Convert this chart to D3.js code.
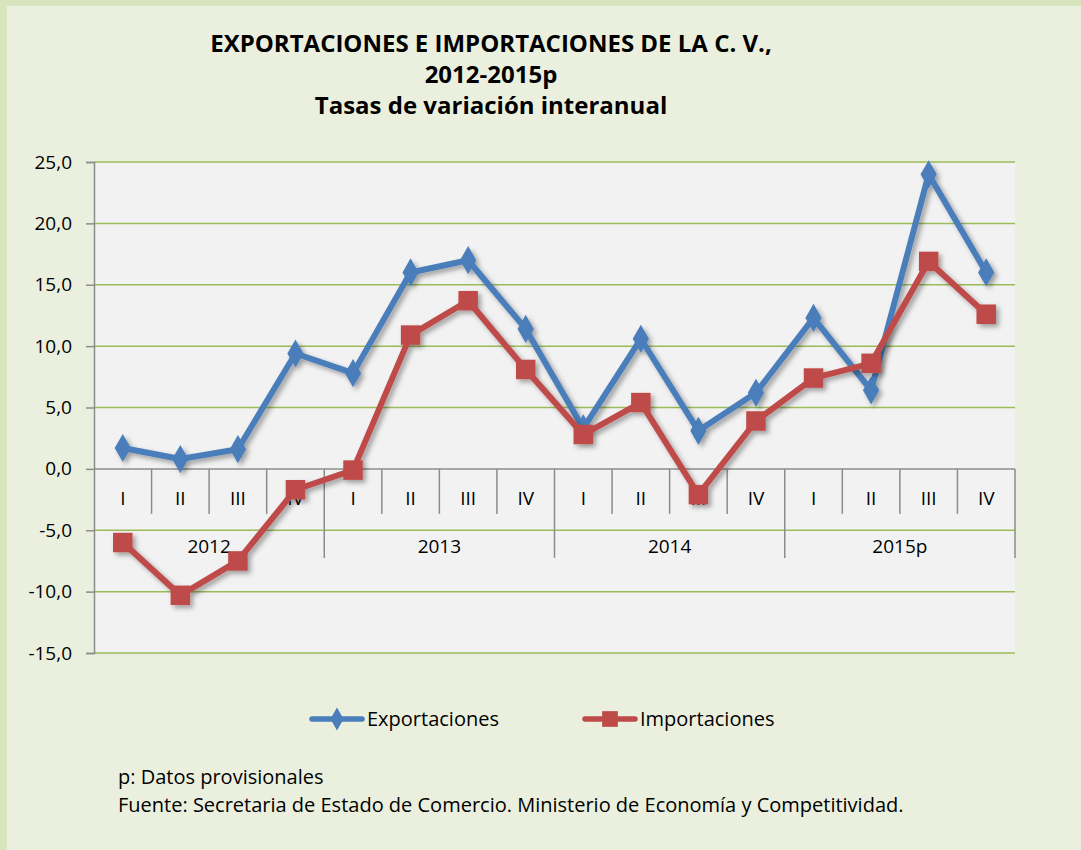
<!DOCTYPE html>
<html>
<head>
<meta charset="utf-8">
<script src="https://cdn.jsdelivr.net/npm/d3@7"></script>
<style>
  body { margin: 0; background: #d7e4bd; }
  svg { display: block; }
  text { font-family: "Open Sans", "Noto Sans", sans-serif; fill: #000; }
</style>
</head>
<body>
<div id="chart"></div>
<script>
var years = ["2012", "2013", "2014", "2015p"];
var quarters = ["I", "II", "III", "IV"];
var exportaciones = [1.7, 0.8, 1.6, 9.4, 7.8, 16.0, 17.0, 11.4, 3.3, 10.6, 3.1, 6.2, 12.3, 6.4, 24.0, 16.0];
var importaciones = [-6.0, -10.3, -7.5, -1.7, -0.1, 10.9, 13.7, 8.1, 2.8, 5.4, -2.1, 3.9, 7.4, 8.6, 16.9, 12.6];
var yTicks = [25, 20, 15, 10, 5, 0, -5, -10, -15];
var titleLines = ["EXPORTACIONES E IMPORTACIONES DE LA C. V.,", "2012-2015p", "Tasas de variación interanual"];
var notes = ["p: Datos provisionales", "Fuente: Secretaria de Estado de Comercio. Ministerio de Economía y Competitividad."];

var W = 1081, H = 850;
var plotL = 94, plotR = 1015, plotT = 162, plotB = 653;

// one key per quarter, e.g. "2012-I"
var keys = [];
years.forEach(function(y) {
  quarters.forEach(function(q) { keys.push(y + "-" + q); });
});

var svg = d3.select("#chart").append("svg")
  .attr("width", W)
  .attr("height", H);

var defs = svg.append("defs");
var shadow = defs.append("filter").attr("id", "shadow")
  .attr("x", "-20%").attr("y", "-20%").attr("width", "140%").attr("height", "140%");
shadow.append("feDropShadow")
  .attr("dx", 3).attr("dy", 3).attr("stdDeviation", 2.5)
  .attr("flood-color", "#000").attr("flood-opacity", 0.35);

// panel
svg.append("rect")
  .attr("x", 7).attr("y", 6)
  .attr("width", W - 7).attr("height", H - 6)
  .attr("fill", "#ebf0de");

// title
svg.append("g").selectAll("text")
  .data(titleLines)
  .join("text")
  .attr("x", 491)
  .attr("y", function(d, i) { return 52 + i * 31; })
  .attr("text-anchor", "middle")
  .attr("font-size", 24)
  .attr("font-weight", "bold")
  .text(function(d) { return d; });

var x = d3.scaleBand().domain(keys).range([plotL, plotR]);
var y = d3.scaleLinear().domain([-15, 25]).range([plotB, plotT]);

// plot area
svg.append("rect")
  .attr("x", plotL).attr("y", plotT)
  .attr("width", plotR - plotL).attr("height", plotB - plotT)
  .attr("fill", "#f2f2f2");

// gridlines
svg.append("g").selectAll("line")
  .data(yTicks.filter(function(t) { return t !== 0; }))
  .join("line")
  .attr("x1", plotL).attr("x2", plotR)
  .attr("y1", function(d) { return y(d); })
  .attr("y2", function(d) { return y(d); })
  .attr("stroke", "#9bbb59")
  .attr("stroke-width", 1.5);

// y axis
var yAxis = svg.append("g")
  .attr("transform", "translate(" + plotL + ",0)")
  .call(d3.axisLeft(y).tickValues(yTicks).tickSize(8).tickPadding(14)
    .tickFormat(function(d) { return d3.format(".1f")(d).replace(".", ",").replace("\u2212", "-"); }));
yAxis.select(".domain").attr("stroke", "#8c8c8c").attr("stroke-width", 1.5);
yAxis.selectAll(".tick line").attr("stroke", "#8c8c8c").attr("stroke-width", 1.5);
yAxis.selectAll(".tick text")
  .attr("font-size", 19)
  .style("font-family", "\"Open Sans\", \"Noto Sans\", sans-serif")
  .attr("fill", "#000");

// category axis at zero
var y0 = y(0);
var cat = svg.append("g");
cat.append("line")
  .attr("x1", plotL).attr("x2", plotR)
  .attr("y1", y0).attr("y2", y0)
  .attr("stroke", "#8c8c8c").attr("stroke-width", 1.5);

var bounds = keys.map(function(k) { return x(k); }).concat([plotR]);
cat.selectAll("line.sep")
  .data(bounds.slice(1))
  .join("line")
  .attr("class", "sep")
  .attr("x1", function(d) { return d; })
  .attr("x2", function(d) { return d; })
  .attr("y1", y0)
  .attr("y2", function(d, i) { return (i + 1) % 4 === 0 ? y0 + 89 : y0 + 45; })
  .attr("stroke", "#8c8c8c").attr("stroke-width", 1.5);

cat.selectAll("text.q")
  .data(keys)
  .join("text")
  .attr("class", "q")
  .attr("x", function(d) { return x(d) + x.bandwidth() / 2; })
  .attr("y", y0 + 36)
  .attr("text-anchor", "middle")
  .attr("font-size", 19)
  .text(function(d) { return d.split("-")[1]; });

cat.selectAll("text.yr")
  .data(years)
  .join("text")
  .attr("class", "yr")
  .attr("x", function(d) {
    return (x(d + "-I") + x(d + "-IV") + x.bandwidth()) / 2;
  })
  .attr("y", y0 + 84)
  .attr("text-anchor", "middle")
  .attr("font-size", 19)
  .text(function(d) { return d; });

// series
var series = [
  { name: "Exportaciones", values: exportaciones, color: "#4a7ebb", shape: d3.symbolDiamond, size: 230 },
  { name: "Importaciones", values: importaciones, color: "#be4b48", shape: d3.symbolSquare, size: 380 }
];

var line = d3.line()
  .x(function(d, i) { return x(keys[i]) + x.bandwidth() / 2; })
  .y(function(d) { return y(d); });

var sg = svg.append("g").selectAll("g")
  .data(series)
  .join("g")
  .attr("filter", "url(#shadow)");

sg.append("path")
  .attr("d", function(s) { return line(s.values); })
  .attr("fill", "none")
  .attr("stroke", function(s) { return s.color; })
  .attr("stroke-width", 6)
  .attr("stroke-linejoin", "round");

sg.each(function(s) {
  d3.select(this).selectAll("path.m")
    .data(s.values)
    .join("path")
    .attr("class", "m")
    .attr("transform", function(d, i) {
      return "translate(" + (x(keys[i]) + x.bandwidth() / 2) + "," + y(d) + ")";
    })
    .attr("d", d3.symbol().type(s.shape).size(s.size))
    .attr("fill", s.color);
});

// legend
var legendX = [312, 585];
var lg = svg.append("g").selectAll("g")
  .data(series)
  .join("g")
  .attr("transform", function(d, i) { return "translate(" + legendX[i] + ",719)"; });
lg.append("line")
  .attr("x1", 0).attr("x2", 50).attr("y1", 0).attr("y2", 0)
  .attr("stroke", function(d) { return d.color; })
  .attr("stroke-width", 5.5)
  .attr("stroke-linecap", "round");
lg.append("path")
  .attr("transform", "translate(25,0)")
  .attr("d", function(d) { return d3.symbol().type(d.shape).size(d.size * 0.65)(); })
  .attr("fill", function(d) { return d.color; });
lg.append("text")
  .attr("x", 55).attr("y", 7)
  .attr("font-size", 20)
  .text(function(d) { return d.name; });

// notes
svg.append("g").selectAll("text")
  .data(notes)
  .join("text")
  .attr("x", 118)
  .attr("y", function(d, i) { return 784 + i * 28; })
  .attr("font-size", 20)
  .text(function(d) { return d; });
</script>
</body>
</html>
